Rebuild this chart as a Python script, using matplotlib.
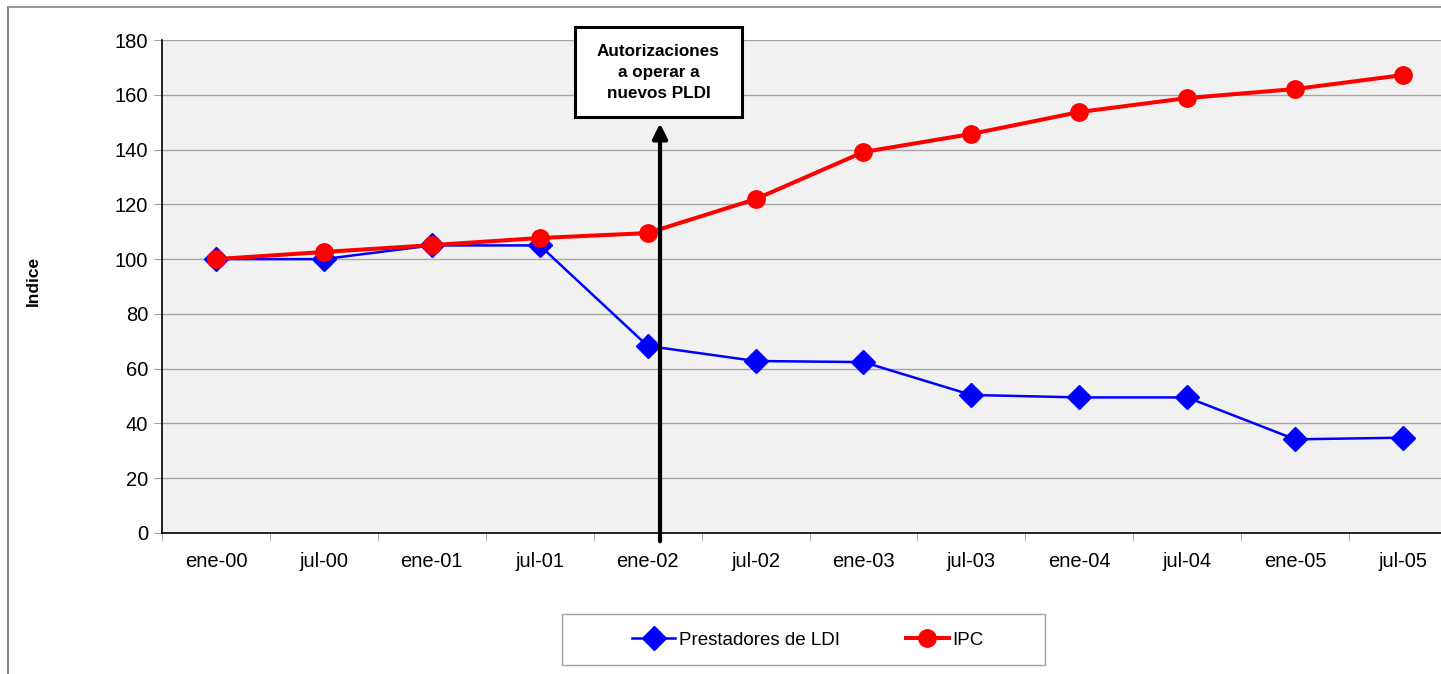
import numpy as np
import matplotlib.pyplot as plt
from matplotlib.patches import Rectangle
from matplotlib.lines import Line2D

plt.rcParams['font.family'] = ['Liberation Sans', 'DejaVu Sans']

periodos = ["ene-00", "jul-00", "ene-01", "jul-01", "ene-02", "jul-02",
            "ene-03", "jul-03", "ene-04", "jul-04", "ene-05", "jul-05"]
prestadores_ldi = [100, 100, 105, 105, 68.3, 62.8, 62.4, 50.4, 49.5, 49.5, 34.2, 34.8]
ipc = [100, 102.6, 105.1, 107.7, 109.5, 121.9, 139.1, 145.7, 153.7, 158.8, 162.1, 167.2]
yticks = list(range(0, 181, 20))

W, H = 1441, 674
fig = plt.figure(figsize=(W / 100, H / 100), dpi=100)

# plot area runs past the right edge of the canvas
left, right, top, bottom = 162, 1457, 40, 533
ax = fig.add_axes([left / W, 1 - bottom / H, (right - left) / W, (bottom - top) / H])
ax.set_facecolor('#f1f1f1')

x = np.arange(len(periodos))
ax.plot(x, prestadores_ldi, color='#0000ff', lw=1.8, marker='D', ms=12,
        label='Prestadores de LDI', zorder=3)
ax.plot(x, ipc, color='#ff0000', lw=2.9, marker='o', ms=12.5,
        label='IPC', zorder=4)

ax.set_xlim(-0.5, len(periodos) - 0.5)
ax.set_ylim(0, 180)
ax.set_yticks(yticks)
ax.set_xticks(x)
ax.set_xticklabels(periodos)
ax.set_xticks(np.arange(len(periodos) + 1) - 0.5, minor=True)
ax.tick_params(axis='x', which='major', length=0, pad=14, labelsize=14.5)
ax.tick_params(axis='x', which='minor', length=6, color='#a0a0a0', direction='out')
ax.tick_params(axis='y', length=6, color='#a0a0a0', pad=4, labelsize=14.5)
ax.grid(axis='y', color='#a6a6a6', lw=1)
ax.set_axisbelow(True)
for s in ['top', 'right']:
    ax.spines[s].set_visible(False)
for s in ['left', 'bottom']:
    ax.spines[s].set_color('black')
    ax.spines[s].set_linewidth(1.2)

fig.text(33 / W, 1 - 281 / H, 'Indice', rotation=90, ha='center', va='center',
         fontsize=12.5, fontweight='bold')

# arrow marking the new licences
xa = (660 - 216) / 107.9
ax.annotate('', xy=(xa, 149.5), xytext=(xa, -3),
            arrowprops=dict(arrowstyle='-|>', lw=3, color='black', mutation_scale=22,
                            shrinkA=0, shrinkB=0),
            annotation_clip=False, zorder=5)

bx0, by0, bx1, by1 = 575, 27, 742, 117
fig.add_artist(Rectangle((bx0 / W, 1 - by1 / H), (bx1 - bx0) / W, (by1 - by0) / H,
                         transform=fig.transFigure, facecolor='white',
                         edgecolor='black', lw=2.2, zorder=6))
fig.text((bx0 + bx1) / 2 / W, 1 - (by0 + by1) / 2 / H,
         'Autorizaciones\na operar a\nnuevos PLDI', ha='center', va='center',
         fontsize=12.3, fontweight='bold', linespacing=1.5, zorder=7)

# outer frame (left and top edges)
fig.add_artist(Line2D([8 / W, 8 / W], [0, 1 - 7 / H], transform=fig.transFigure,
                      color='#6f6f6f', lw=1.3))
fig.add_artist(Line2D([8 / W, 1], [1 - 7 / H, 1 - 7 / H], transform=fig.transFigure,
                      color='#8f8f8f', lw=1.3))

# legend box drawn separately so its padding can be wider than tall
lx0, ly0, lx1, ly1 = 562, 614, 1045, 665
fig.add_artist(Rectangle((lx0 / W, 1 - ly1 / H), (lx1 - lx0) / W, (ly1 - ly0) / H,
                         transform=fig.transFigure, facecolor='white',
                         edgecolor='#a0a0a0', lw=1))
fig.legend(loc='center', bbox_to_anchor=(808 / W, 1 - 640 / H),
           ncol=2, fontsize=13.5, frameon=False,
           handlelength=2.3, columnspacing=3.5, handletextpad=0.2,
           borderpad=0)

fig.savefig('out.png', dpi=100)
